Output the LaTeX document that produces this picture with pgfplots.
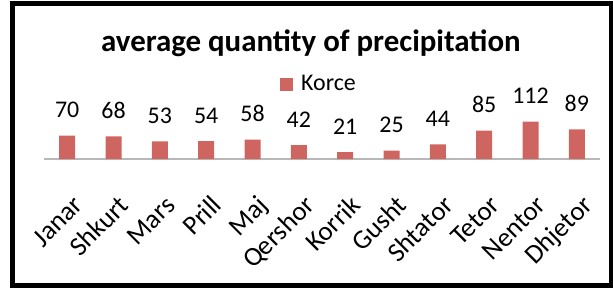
\documentclass[border=0pt]{standalone}
\usepackage{pgfplots}
\pgfplotsset{compat=1.18}
\usepackage{fontspec}
\setmainfont{Carlito}
\definecolor{barred}{RGB}{207,101,96}
\begin{document}
\begin{tikzpicture}[x=1bp,y=1bp]
\useasboundingbox (0,0) rectangle (613,287);
\draw[line width=5bp] (12,2) rectangle (611,283.5);
\begin{axis}[
  at={(44bp,128bp)}, anchor=south west,
  scale only axis, width=556bp, height=100bp,
  xmin=-0.5, xmax=11.5, ymin=0, ymax=300,
  clip=false,
  axis x line=bottom,
  axis y line=none,
  x axis line style={-, draw=black!28, line width=1.5bp},
  xtick=data,
  xticklabels={Janar,Shkurt,Mars,Prill,Maj,Qershor,Korrik,Gusht,Shtator,Tetor,Nentor,Dhjetor},
  major tick length=0pt,
  ytick=\empty,
  xticklabel style={anchor=base east, inner sep=0pt, font=\fontsize{27}{32}\selectfont, xshift=17bp, yshift=-48bp, rotate=45},
  ybar, bar width=16bp,
  /pgf/number format/assume math mode=true,
  nodes near coords,
  nodes near coords style={anchor=base, inner sep=0pt, yshift=18bp, font=\fontsize{24}{28}\selectfont, text=black},
  title={average quantity of precipitation},
  title style={at={(axis description cs:0.48,1.02)}, anchor=base, font=\fontsize{31}{36}\selectfont\bfseries, inner sep=0pt},
  legend style={at={(axis description cs:0.4946,0.75)}, anchor=center, draw=none, fill=none, font=\fontsize{24}{28}\selectfont, inner sep=0pt, /tikz/every odd column/.append style={column sep=6bp}},
  legend image code/.code={\fill[#1] (0bp,-6.5bp) rectangle (13bp,6.5bp);},
]
\addplot[fill=barred, draw=none] coordinates {(0,70) (1,68) (2,53) (3,54) (4,58) (5,42) (6,21) (7,25) (8,44) (9,85) (10,112) (11,89)};
\legend{Korce}
\end{axis}
\end{tikzpicture}
\end{document}
